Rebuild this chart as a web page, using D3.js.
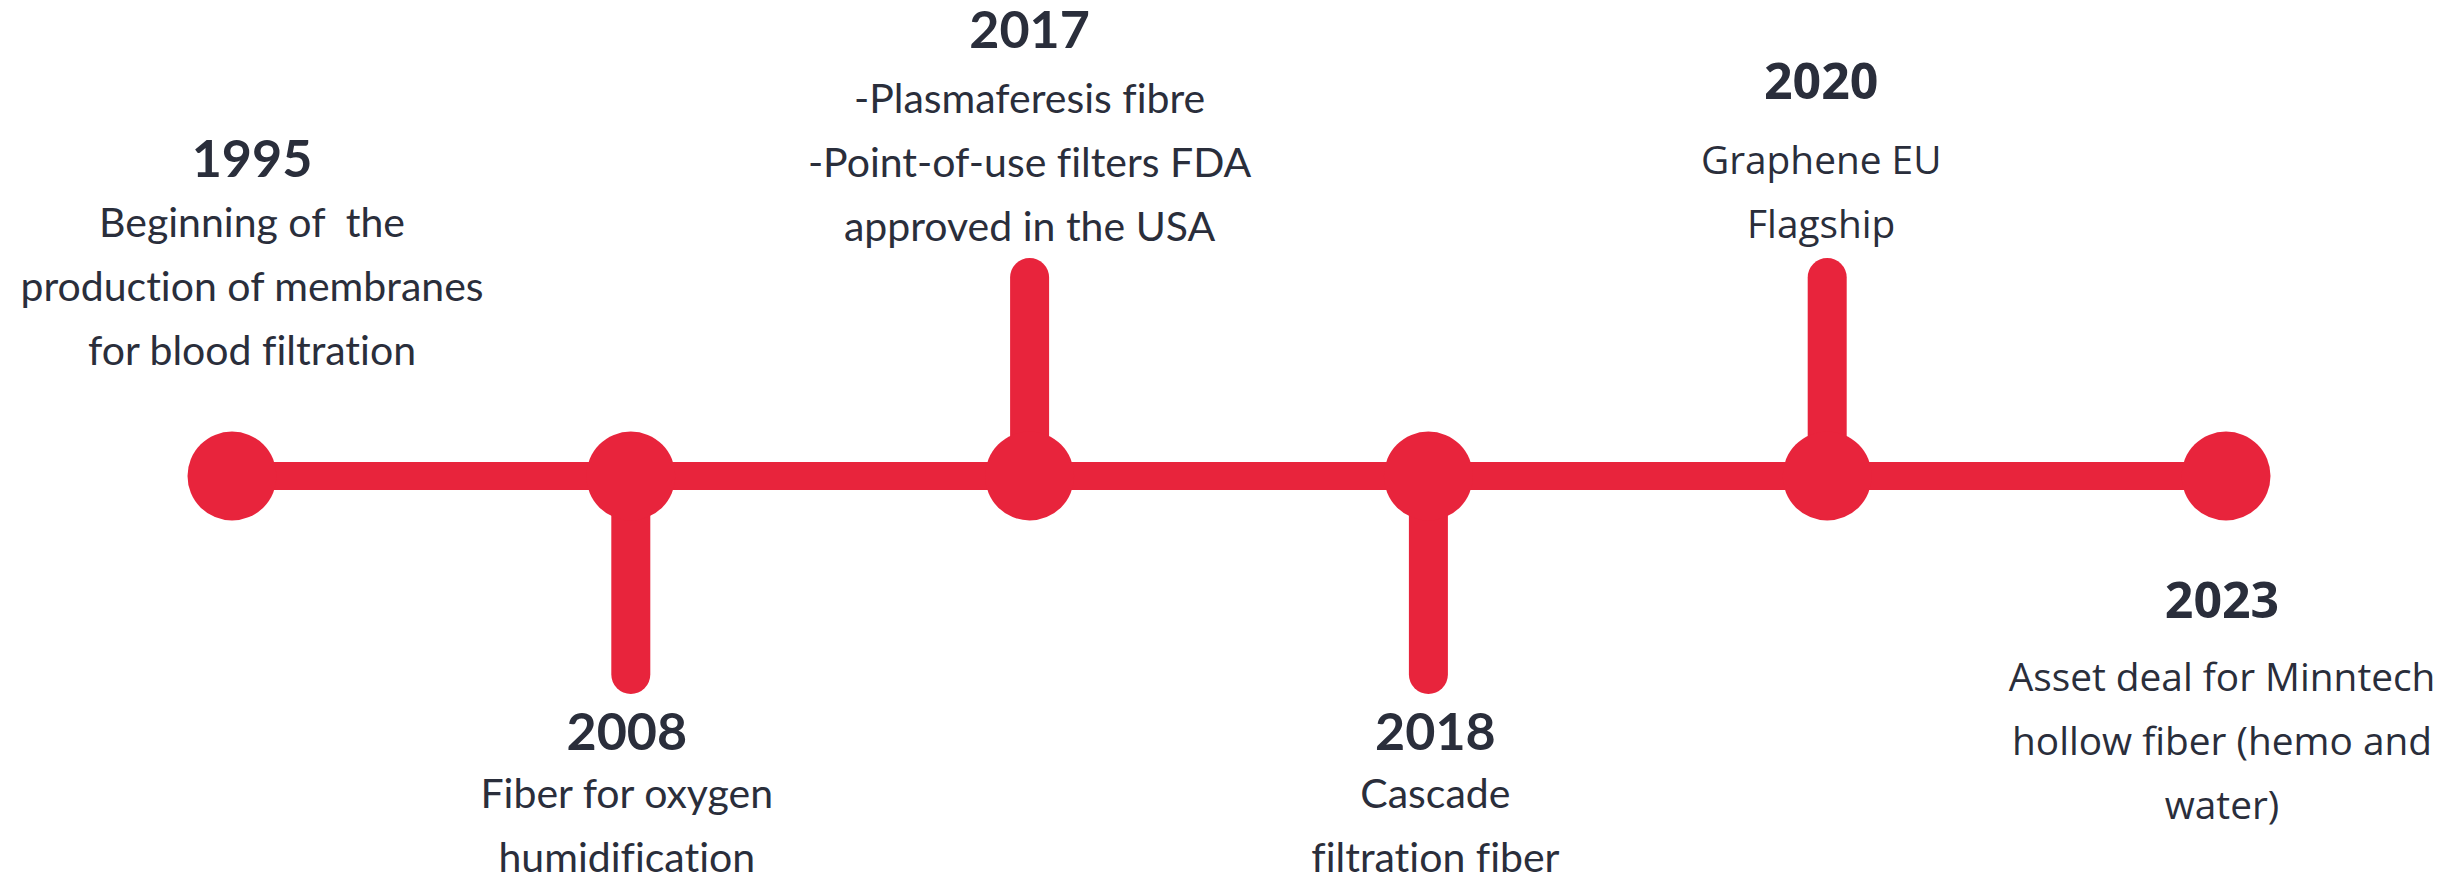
<!DOCTYPE html>
<html>
<head>
<meta charset="utf-8">
<script src="https://cdn.jsdelivr.net/npm/d3@7"></script>
<style>
  html, body { margin: 0; padding: 0; background: #fff; }
  svg { display: block; }
  text { font-variant-ligatures: none; }
</style>
</head>
<body>
<div id="chart"></div>
<script>
// Events of the timeline
const years = ["1995", "2008", "2017", "2018", "2020", "2023"];

const descriptions = [
  ["Beginning of  the", "production of membranes", "for blood filtration"],
  ["Fiber for oxygen", "humidification"],
  ["-Plasmaferesis fibre", "-Point-of-use filters FDA", "approved in the USA"],
  ["Cascade", "filtration fiber"],
  ["Graphene EU", "Flagship"],
  ["Asset deal for Minntech", "hollow fiber (hemo and", "water)"]
];

// which side the label sits on, and whether a stem joins it
const sides = ["up", "down", "up", "down", "up", "down"];
const hasStem = [false, true, true, true, true, false];

// Layout
const W = 2463, H = 878;
const red = "#e8243c", ink = "#2a2e3b";
const lineY = 476;

// label layout per event (year baseline, shift from the dot, gap to text, font family)
const yearBase = [177, 750, 48, 750, 99, 618];
const labelDx = [20, -4, 0, 7, -6, -4];
const firstGap = [60, 58, 65, 58, 75, 73];
const fontKind = ["a", "a", "a", "a", "b", "b"];
const fonts = {
  a: {family: "Lato, 'Open Sans', sans-serif", year: 52, text: 41},
  b: {family: "'Open Sans', 'Noto Sans', sans-serif", year: 50, text: 38.8}
};

const x = d3.scalePoint()
  .domain(years)
  .range([232, 2226]);

const svg = d3.select("#chart")
  .append("svg")
  .attr("width", W)
  .attr("height", H);

// main horizontal bar
svg.append("line")
  .attr("x1", x(years[0]))
  .attr("x2", x(years[years.length - 1]))
  .attr("y1", lineY)
  .attr("y2", lineY)
  .attr("stroke", red)
  .attr("stroke-width", 28);

// stems
const stemTop = 258, stemBottom = 694, stemW = 39;
svg.selectAll(".stem")
  .data(years.filter((d, i) => hasStem[i]))
  .join("line")
  .attr("class", "stem")
  .attr("x1", d => x(d))
  .attr("x2", d => x(d))
  .attr("y1", lineY)
  .attr("y2", d => sides[years.indexOf(d)] === "up" ? stemTop + stemW / 2 : stemBottom - stemW / 2)
  .attr("stroke", red)
  .attr("stroke-width", stemW)
  .attr("stroke-linecap", "round");

// dots
svg.selectAll(".dot")
  .data(years)
  .join("circle")
  .attr("class", "dot")
  .attr("cx", d => x(d))
  .attr("cy", lineY)
  .attr("r", 44.5)
  .attr("fill", red);

// labels
const labels = svg.selectAll(".label")
  .data(years)
  .join("g")
  .attr("class", "label")
  .attr("transform", (d, i) => `translate(${x(d) + labelDx[i]},0)`);

labels.append("text")
  .attr("y", (d, i) => yearBase[i])
  .attr("text-anchor", "middle")
  .attr("fill", ink)
  .attr("font-family", (d, i) => fonts[fontKind[i]].family)
  .attr("font-weight", 700)
  .attr("font-size", (d, i) => fonts[fontKind[i]].year)
  .text(d => d);

labels.each(function(d, i) {
  const f = fonts[fontKind[i]];
  d3.select(this).selectAll(".desc")
    .data(descriptions[i])
    .join("text")
    .attr("class", "desc")
    .attr("y", (t, j) => yearBase[i] + firstGap[i] + j * 64)
    .attr("text-anchor", "middle")
    .attr("fill", ink)
    .attr("font-family", f.family)
    .attr("font-size", f.text)
    .attr("xml:space", "preserve")
    .style("white-space", "pre")
    .text(t => t);
});
</script>
</body>
</html>
